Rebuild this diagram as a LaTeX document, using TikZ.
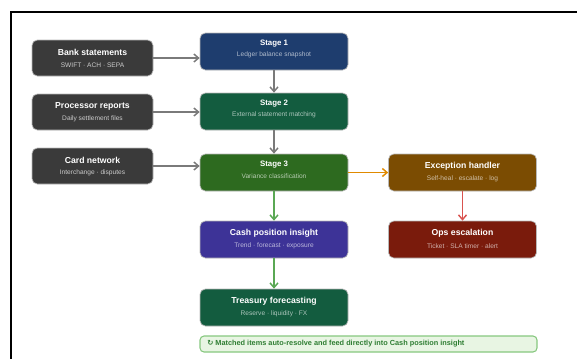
\documentclass[tikz,border=0pt]{standalone}
\usepackage{fontspec}
\setmainfont{Liberation Sans}
\newfontfamily\symfont{DejaVu Sans}
\usetikzlibrary{arrows.meta}

\definecolor{inputgray}{HTML}{3A3A3A}
\definecolor{stageblue}{HTML}{1E3D6E}
\definecolor{stageteal}{HTML}{135C3F}
\definecolor{stagegreen}{HTML}{2D6A1F}
\definecolor{excbrown}{HTML}{7B4C02}
\definecolor{opsred}{HTML}{7A1B0C}
\definecolor{cashviolet}{HTML}{3D3397}
\definecolor{linkgray}{HTML}{7A7A7A}
\definecolor{linkgreen}{HTML}{5AA854}
\definecolor{linkorange}{HTML}{E08A00}
\definecolor{linkred}{HTML}{D9534F}
\definecolor{notefill}{HTML}{E8F5E3}
\definecolor{noteline}{HTML}{86C77F}
\definecolor{notetext}{HTML}{2E7D32}

\begin{document}
\begin{tikzpicture}[x=0.75pt,y=-0.75pt,
		box/.style={rounded corners=4pt, draw=white!72!black, line width=0.5pt, inner sep=0pt},
		inbox/.style={box, fill=inputgray, minimum width=90.75pt, minimum height=27pt},
		stagebox/.style={box, minimum width=111pt, minimum height=27.75pt},
		ttl/.style={text=white, inner sep=0pt, font=\bfseries\fontsize{6.5}{7}\selectfont},
		sttl/.style={ttl, font=\bfseries\fontsize{5.9}{7}\selectfont},
		sub/.style={inner sep=0pt, font=\fontsize{4.95}{6}\selectfont},
		link/.style={line width=1.1pt, -{Straight Barb[length=3.5pt,width=6pt]}}]

	\useasboundingbox (0,0) rectangle (577,358);
	\clip (0,0) rectangle (577,358);
	\draw [line width=1.5pt] (11,400) -- (11,12) -- (620,12);

	% inputs
	\node [inbox] (bank) at (92.5,58) {};
	\node [ttl] at (92.5,52) {Bank statements};
	\node [sub, text=white!80!black] at (92.5,65) {SWIFT · ACH · SEPA};

	\node [inbox] (proc) at (92.5,112) {};
	\node [ttl] at (92.5,106) {Processor reports};
	\node [sub, text=white!80!black] at (92.5,119) {Daily settlement files};

	\node [inbox] (card) at (92.5,166) {};
	\node [ttl] at (92.5,160) {Card network};
	\node [sub, text=white!80!black] at (92.5,173) {Interchange · disputes};

	% stages
	\node [stagebox, fill=stageblue] (s1) at (274,51.5) {};
	\node [sttl] at (274,44) {Stage 1};
	\node [sub, text=stageblue!35!white] at (274,55) {Ledger balance snapshot};

	\node [stagebox, fill=stageteal] (s2) at (274,111.5) {};
	\node [sttl] at (274,104) {Stage 2};
	\node [sub, text=stageteal!35!white] at (274,115) {External statement matching};

	\node [stagebox, fill=stagegreen] (s3) at (274,172.5) {};
	\node [sttl] at (274,165) {Stage 3};
	\node [sub, text=stagegreen!35!white] at (274,176) {Variance classification};

	% outcomes
	\node [stagebox, fill=excbrown] (exc) at (462.5,172.5) {};
	\node [ttl] at (462.5,166) {Exception handler};
	\node [sub, text=excbrown!35!white] at (462.5,179) {Self-heal · escalate · log};

	\node [stagebox, fill=opsred] (ops) at (462.5,239.5) {};
	\node [ttl] at (462.5,233) {Ops escalation};
	\node [sub, text=opsred!35!white] at (462.5,246) {Ticket · SLA timer · alert};

	\node [stagebox, fill=cashviolet] (cash) at (274,239.5) {};
	\node [ttl] at (274,233) {Cash position insight};
	\node [sub, text=cashviolet!35!white] at (274,246) {Trend · forecast · exposure};

	\node [stagebox, fill=stageteal] (tres) at (274,307.5) {};
	\node [ttl] at (274,301) {Treasury forecasting};
	\node [sub, text=stageteal!35!white] at (274,314) {Reserve · liquidity · FX};

	% note
	\node [rounded corners=3pt, draw=noteline, line width=0.8pt, fill=notefill,
		minimum width=252.75pt, minimum height=12pt, inner sep=0pt] (note) at (368.5,344) {};
	\node [inner sep=0pt, text=notetext, anchor=west, font=\bfseries\fontsize{5.5}{6}\selectfont]
		at (207,344) {{\symfont ↻} Matched items auto-resolve and feed directly into Cash position insight};

	% connectors
	\draw [link, linkgray] (bank.east) -- (bank.east -| s1.west);
	\draw [link, linkgray] (proc.east) -- (proc.east -| s2.west);
	\draw [link, linkgray] (card.east) -- (card.east -| s3.west);
	\draw [link, linkgray] (s1) -- (s2);
	\draw [link, linkgray] (s2) -- (s3);
	\draw [link, linkgreen] (s3) -- (cash);
	\draw [link, linkgreen] (cash) -- (tres);
	\draw [link, linkorange] (s3) -- (exc);
	\draw [link, linkred] (exc) -- (ops);
\end{tikzpicture}
\end{document}
